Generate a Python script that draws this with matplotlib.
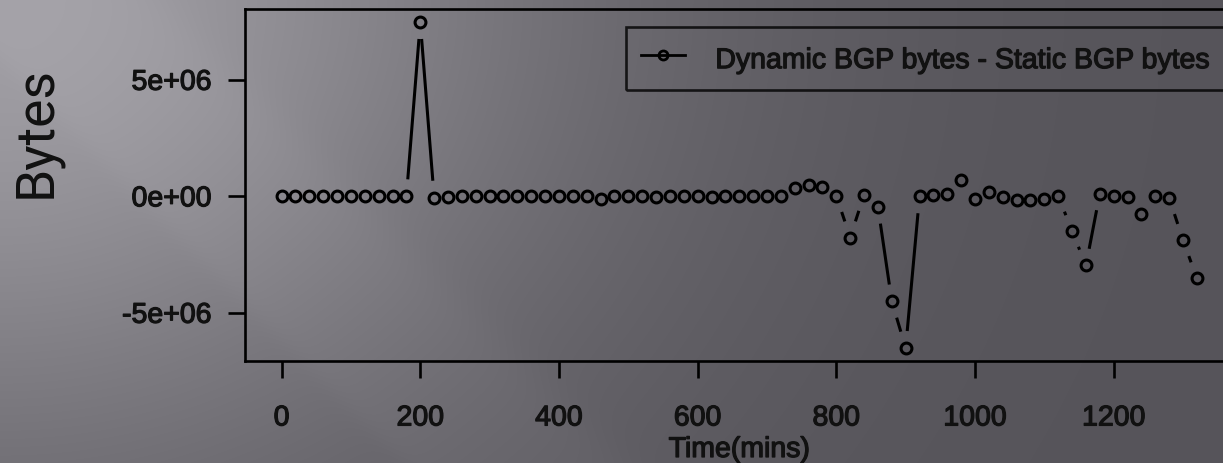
import numpy as np
import matplotlib
matplotlib.use("Agg")
import matplotlib.pyplot as plt
import matplotlib.patheffects as pe
from matplotlib.collections import LineCollection
from matplotlib.lines import Line2D

# ---------------- data ----------------
time_mins = [0, 20, 40, 60, 80, 100, 120, 140, 160, 180,
             200, 220, 240, 260, 280, 300, 320, 340, 360, 380,
             400, 420, 440, 460, 480, 500, 520, 540, 560, 580,
             600, 620, 640, 660, 680, 700, 720, 740, 760, 780,
             800, 820, 840, 860, 880, 900, 920, 940, 960, 980,
             1000, 1020, 1040, 1060, 1080, 1100, 1120, 1140, 1160, 1180,
             1200, 1220, 1240, 1260, 1280, 1300, 1320]

diff_bytes = [0, 0, 0, 0, 0, 0, 0, 0, 0, 0,
              7.48e6, -0.06e6, -0.05e6, 0, 0, 0, 0, 0, 0, 0,
              0, 0, 0, -0.10e6, 0, 0, 0, -0.05e6, 0, 0,
              0, -0.05e6, 0, 0, 0, 0, 0, 0.36e6, 0.47e6, 0.40e6,
              0.02e6, -1.77e6, 0.07e6, -0.45e6, -4.51e6, -6.51e6, 0.0, 0.04e6, 0.12e6, 0.69e6,
              -0.10e6, 0.19e6, -0.03e6, -0.17e6, -0.17e6, -0.13e6, 0.02e6, -1.49e6, -2.97e6, 0.12e6,
              0.02e6, -0.03e6, -0.74e6, 0.02e6, -0.07e6, -1.88e6, -3.52e6]

x_ticks = [0, 200, 400, 600, 800, 1000, 1200]
x_tick_labels = ["0", "200", "400", "600", "800", "1000", "1200"]
y_ticks = [-5e6, 0, 5e6]
y_tick_labels = ["-5e+06", "0e+00", "5e+06"]
series_label = "Dynamic BGP bytes - Static BGP bytes"
x_label = "Time(mins)"
y_label = "Bytes"

# ---------------- figure ----------------
W, H = 1223, 464
fig = plt.figure(figsize=(W / 100, H / 100), dpi=100)
plt.rcParams['font.family'] = ['Liberation Sans', 'DejaVu Sans']
ink = '#111111'
thick = [pe.withStroke(linewidth=0.9, foreground=ink)]

# gradient background (dark gray slide theme)
yy, xx = np.mgrid[0:H, 0:W].astype(float)
g = 86 + 74 * np.exp(-(xx / 560.0) ** 2 - (yy / 480.0) ** 2)
d = xx - yy
band = 1 / (1 + np.exp(-(d + 60) / 8.0)) * 1 / (1 + np.exp(-(160 - d) / 15.0))
g = g + 5 * band
bg = np.clip(np.dstack([g, g - 2, g + 4]) / 255.0, 0, 1)
fig.figimage(bg, xo=0, yo=0, origin='upper', zorder=-10)

# axes placed in pixel terms (plot region runs past the right edge)
left_px, right_px, top_px, bot_px = 245, 1233.5, 10, 362
ax = fig.add_axes([left_px / W, 1 - bot_px / H, (right_px - left_px) / W, (bot_px - top_px) / H])
ax.set_zorder(1)
ax.patch.set_alpha(0)

t = np.asarray(time_mins, dtype=float)
v = np.asarray(diff_bytes, dtype=float)
xr = t.max() - t.min()
yr = v.max() - v.min()
ax.set_xlim(t.min() - 0.04 * xr, t.max() + 0.04 * xr)
ax.set_ylim(v.min() - 0.04 * yr, v.max() + 0.04 * yr)

# points
ax.plot(t, v, linestyle='none', marker='o', markersize=7.8, markerfacecolor='none',
        markeredgecolor='black', markeredgewidth=2.2, zorder=3, clip_on=False)

# R-style type="b" connecting segments with gaps around the points
P = ax.transData.transform(np.column_stack([t, v]))
gap = 17.0
segs = []
for i in range(len(P) - 1):
    p0, p1 = P[i], P[i + 1]
    dv = p1 - p0
    L = np.hypot(*dv)
    if L > 2 * gap:
        u = dv / L
        s = ax.transData.inverted().transform(np.vstack([p0 + u * gap, p1 - u * gap]))
        segs.append(s)
ax.add_collection(LineCollection(segs, colors='black', linewidths=2.2, zorder=2))

# axes styling
for sp in ax.spines.values():
    sp.set_color('black')
    sp.set_linewidth(1.9)
ax.set_xticks(x_ticks)
ax.set_xticklabels(x_tick_labels)
ax.set_yticks(y_ticks)
ax.set_yticklabels(y_tick_labels)
ax.tick_params(axis='both', direction='out', length=12.5, width=1.9, colors='black',
               labelsize=20.5, labelcolor=ink)
ax.tick_params(axis='x', pad=19.5)
ax.tick_params(axis='y', pad=11.5)
for lab in ax.get_xticklabels() + ax.get_yticklabels():
    lab.set_path_effects(thick)

ax.set_xlabel(x_label, fontsize=20.5, color=ink, labelpad=4, path_effects=thick)

fig.text(36 / W, 1 - 132 / H, y_label, rotation=90, fontsize=38.5, ha='center', va='center',
         color=ink, family=['Roboto', 'DejaVu Sans'], fontweight='normal')

handle = Line2D([], [], color='black', linewidth=2.0, marker='o', markersize=6.5,
                markerfacecolor='none', markeredgecolor='black', markeredgewidth=2.0)
leg = ax.legend([handle], [series_label], loc='upper right',
                bbox_to_anchor=(1225 / W, 1 - 28 / H), bbox_transform=fig.transFigure,
                borderaxespad=0, fontsize=20.5, frameon=True, fancybox=False,
                edgecolor='black', facecolor='none', framealpha=None,
                handlelength=1.55, handleheight=1.35, handletextpad=1.05, borderpad=0.55)
leg.get_frame().set_linewidth(1.9)
for txt in leg.get_texts():
    txt.set_color(ink)
    txt.set_path_effects(thick)

fig.savefig('out.png', dpi=100)
